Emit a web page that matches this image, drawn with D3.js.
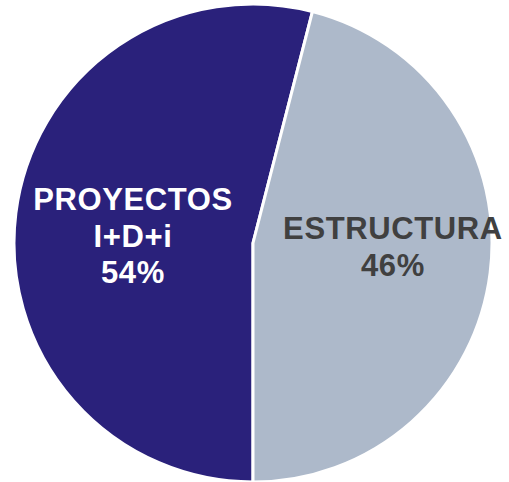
<!DOCTYPE html>
<html>
<head>
<meta charset="utf-8">
<script src="https://cdn.jsdelivr.net/npm/d3@7"></script>
<style>
  body { margin: 0; background: #fff; }
</style>
</head>
<body>
<div id="chart"></div>
<script>
(function () {
	// slices, clockwise starting from the bottom
	var categories = ["PROYECTOS", "ESTRUCTURA"];
	var labelLines = [["PROYECTOS", "I+D+i", "54%"], ["ESTRUCTURA", "46%"]];
	var values = [54, 46];
	var colors = ["#2a217b", "#adb9ca"];
	var textColors = ["#ffffff", "#404040"];

	var width = 509, height = 482;
	var cx = 253, cy = 243, radius = 239;

	var svg = d3.select("#chart")
		.append("svg")
		.attr("width", width)
		.attr("height", height)
		.append("g")
		.attr("transform", "translate(" + cx + "," + cy + ")");

	var pie = d3.pie()
		.sort(null)
		.value(function (d) { return d; })
		.startAngle(Math.PI)
		.endAngle(3 * Math.PI);

	var arc = d3.arc()
		.innerRadius(0)
		.outerRadius(radius);

	var arcs = pie(values);

	svg.selectAll(".slice")
		.data(arcs)
		.enter().append("path")
		.attr("class", "slice")
		.attr("d", arc)
		.attr("fill", function (d, i) { return colors[i]; })
		.attr("stroke", "#fff")
		.attr("stroke-width", 3)
		.attr("stroke-linejoin", "round");

	// label anchors: centroid on a smaller arc
	var labelR = [121, 141];
	var labelDy = [19, -3];
	var lineH = 36.5;

	var labels = svg.selectAll(".label")
		.data(arcs)
		.enter().append("text")
		.attr("class", "label")
		.attr("font-family", "'Liberation Sans', Arial, sans-serif")
		.attr("font-weight", "bold")
		.attr("font-size", 31)
		.attr("letter-spacing", 0.6)
		.attr("text-anchor", "middle")
		.attr("fill", function (d, i) { return textColors[i]; })
		.attr("transform", function (d, i) {
			var a = d3.arc().innerRadius(labelR[i]).outerRadius(labelR[i]);
			var c = a.centroid(d);
			return "translate(" + c[0] + "," + c[1] + ")";
		});

	labels.each(function (d, i) {
		var lines = labelLines[i];
		var n = lines.length;
		d3.select(this).selectAll("tspan")
			.data(lines)
			.enter().append("tspan")
			.attr("x", 0)
			.attr("y", function (t, j) { return (j - (n - 1) / 2) * lineH + labelDy[i]; })
			.text(function (t) { return t; });
	});
})();
</script>
</body>
</html>
